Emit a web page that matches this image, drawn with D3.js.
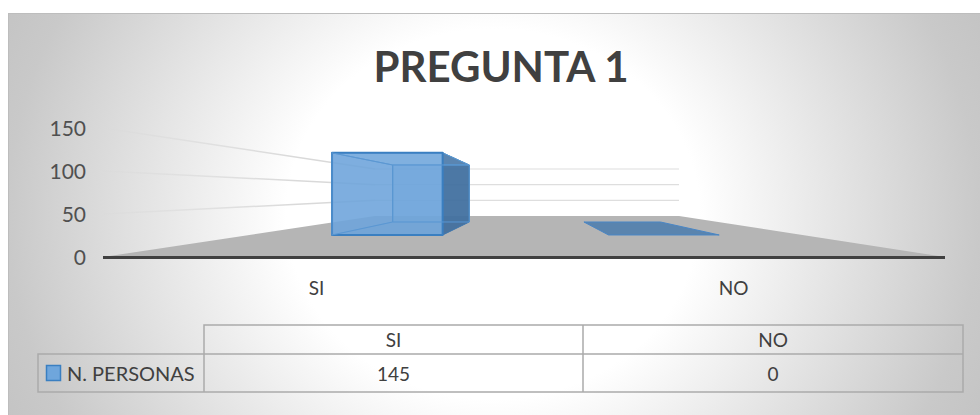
<!DOCTYPE html>
<html>
<head>
<meta charset="utf-8">
<script src="https://d3js.org/d3.v7.min.js"></script>
<style>
    html, body { margin: 0; padding: 0; background: #fff; }
    svg { display: block; }
    text { font-family: Lato, "Open Sans", sans-serif; fill: #404040; }
</style>
</head>
<body>
<svg id="chart" width="980" height="415"></svg>
<script>
// Chart data.
const title = "PREGUNTA 1";
const seriesName = "N. PERSONAS";
const categories = ["SI", "NO"];
const values = [145, 0];
const yTicks = [0, 50, 100, 150];

const svg = d3.select("#chart"),
    defs = svg.append("defs");

// Background gradient: white in the middle, grey towards the corners. The
// ellipse is wider than it is tall so the top centre stays nearly white.
const bg = defs.append("radialGradient").attr("id", "bg")
    .attr("gradientUnits", "userSpaceOnUse")
    .attr("cx", 0).attr("cy", 0).attr("r", 1)
    .attr("gradientTransform", "translate(493,214) scale(558,500)");
bg.append("stop").attr("offset", 0.37).attr("stop-color", "#ffffff");
bg.append("stop").attr("offset", 0.87).attr("stop-color", "#c9c9c9");
bg.append("stop").attr("offset", 1).attr("stop-color", "#c2c2c2");

// Left wall gridlines fade out towards the front.
const fade = defs.append("linearGradient").attr("id", "fade")
    .attr("gradientUnits", "userSpaceOnUse")
    .attr("x1", 103).attr("x2", 300).attr("y1", 0).attr("y2", 0);
fade.append("stop").attr("offset", 0).attr("stop-color", "#d9d9d9").attr("stop-opacity", 0.3);
fade.append("stop").attr("offset", 1).attr("stop-color", "#d9d9d9");

svg.append("rect")
    .attr("x", 8.5).attr("y", 13.5).attr("width", 972).attr("height", 402)
    .attr("fill", "url(#bg)").attr("stroke", "#bdbdbd");

// The 3D box is a front plane and a back plane, depth t runs between them.
const yFront = d3.scaleLinear().domain([0, 150]).range([257, 128]),
    yBack = d3.scaleLinear().domain([0, 150]).range([216, 169]),
    xFront = d3.scaleLinear().domain([0, 1]).range([103, 945]),
    xBack = d3.scaleLinear().domain([0, 1]).range([375, 679]),
    band = d3.scaleBand().domain(categories).range([0, 1]).paddingInner(0.6).paddingOuter(0.3);

const project = (u, v, t) => [
    xFront(u) + (xBack(u) - xFront(u)) * t,
    yFront(v) + (yBack(v) - yFront(v)) * t
];

const poly = (pts) => pts.map((p) => p.join(",")).join(" ");

// Floor.
svg.append("polygon")
    .attr("points", poly([project(0, 0, 0), project(0, 0, 1), project(1, 0, 1), project(1, 0, 0)]))
    .attr("fill", "#b5b5b5");

// Gridlines on the left and back walls.
const grid = svg.append("g");
yTicks.filter((d) => d > 0).forEach((d) => {
    const a = project(0, d, 0), b = project(0, d, 1), c = project(1, d, 1);
    grid.append("line")
        .attr("x1", a[0]).attr("y1", a[1]).attr("x2", b[0]).attr("y2", b[1] + 0.01)
        .attr("stroke", "url(#fade)").attr("stroke-width", 1.5);
    grid.append("line")
        .attr("x1", b[0]).attr("y1", b[1]).attr("x2", c[0]).attr("y2", c[1])
        .attr("stroke", "#dedede").attr("stroke-width", 1.2);
});

// Front edge of the floor.
svg.append("line")
    .attr("x1", xFront(0)).attr("x2", xFront(1))
    .attr("y1", yFront(0) + 0.5).attr("y2", yFront(0) + 0.5)
    .attr("stroke", "#404040").attr("stroke-width", 3);

// Value axis.
const axis = svg.append("g")
    .attr("transform", "translate(86,1)")
    .call(d3.axisLeft(yFront).tickValues(yTicks).tickSize(0).tickPadding(0));
axis.select(".domain").remove();
axis.selectAll("text")
    .style("font-size", "21px")
    .style("font-family", 'Lato, "Open Sans", sans-serif')
    .style("fill", "#505050");

// Bars, drawn back to front. Bars sit between two depths.
const tNear = 0.537, tFar = 0.854;
const bars = svg.append("g");
categories.forEach((cat, i) => {
    const u0 = band(cat), u1 = u0 + band.bandwidth(), v = values[i];
    const p = (u, val, t) => project(u, val, t);
    const face = (pts, fill, op, stroke) => bars.append("polygon")
        .attr("points", poly(pts))
        .attr("fill", fill).attr("fill-opacity", op)
        .attr("stroke", stroke || "none").attr("stroke-width", stroke ? 1 : 0)
        .attr("stroke-linejoin", "round");

    if (v > 0) {
        face([p(u0, 0, tFar), p(u0, v, tFar), p(u1, v, tFar), p(u1, 0, tFar)], "#6ea5da", 0.6, "#5b9bd5");
        face([p(u0, 0, tNear), p(u0, v, tNear), p(u0, v, tFar), p(u0, 0, tFar)], "#6ea5da", 0.3, "#5b9bd5");
        face([p(u0, 0, tNear), p(u0, 0, tFar), p(u1, 0, tFar), p(u1, 0, tNear)], "#4a86c5", 0.3);
        face([p(u1, 0, tNear), p(u1, v, tNear), p(u1, v, tFar), p(u1, 0, tFar)], "#3f6c9b", 0.88, "#3f76ad");
        face([p(u0, v, tNear), p(u0, v, tFar), p(u1, v, tFar), p(u1, v, tNear)], "#6ea5da", 0.2, "#5b9bd5");
        face([p(u0, 0, tNear), p(u0, v, tNear), p(u1, v, tNear), p(u1, 0, tNear)], "#6ea5da", 0.85, "#3a7fc1")
            .attr("stroke-width", 2);
        // back edges show through the front face
        face([p(u0, v, tNear), p(u0, v, tFar), p(u0, 0, tFar), p(u0, 0, tNear)], "none", 0, "#5b97d2");
        face([p(u0, v, tFar), p(u1, v, tFar), p(u1, 0, tFar), p(u0, 0, tFar)], "none", 0, "#5b97d2");
    } else {
        face([p(u0, v, tNear), p(u0, v, tFar), p(u1, v, tFar), p(u1, v, tNear)], "#4478ad", 0.8, "#4a86c5");
    }
});

// Category labels.
svg.append("g").selectAll("text").data(categories).enter().append("text")
    .attr("x", (d) => (d == "SI" ? 0.25 : 0.75) * (xFront(1) - xFront(0)) + xFront(0) + (d == "SI" ? 3 : -1))
    .attr("y", 295)
    .attr("text-anchor", "middle")
    .style("font-size", "19px")
    .text((d) => d);

// Title.
svg.append("text")
    .attr("x", 501).attr("y", 82)
    .attr("text-anchor", "middle")
    .style("font-size", "42px").style("font-weight", 700)
    .text(title);

// Data table.
const tableLines = "#ababab",
    colX = [38, 204, 583, 963],
    rowY = [325, 354, 392];
const table = svg.append("g").attr("fill", "none").attr("stroke", tableLines).attr("stroke-width", 1.5);
table.append("path").attr("d",
    `M${colX[1]},${rowY[2]}V${rowY[0]}H${colX[3]}V${rowY[2]}H${colX[0]}V${rowY[1]}H${colX[3]}` +
    `M${colX[2]},${rowY[0]}V${rowY[2]}`);

const colCentre = (i) => (colX[i + 1] + colX[i + 2]) / 2;
categories.forEach((cat, i) => {
    svg.append("text").attr("x", colCentre(i)).attr("y", 347)
        .attr("text-anchor", "middle").style("font-size", "19px").text(cat);
    svg.append("text").attr("x", colCentre(i)).attr("y", 381)
        .attr("text-anchor", "middle").style("font-size", "19px").text(values[i]);
});

svg.append("rect")
    .attr("x", 46.5).attr("y", 365.5).attr("width", 14).attr("height", 15)
    .attr("fill", "#6fa6dc").attr("stroke", "#3a7fc1").attr("stroke-width", 1.5);
svg.append("text").attr("x", 67).attr("y", 381)
    .style("font-size", "20px").text(seriesName);
</script>
</body>
</html>
